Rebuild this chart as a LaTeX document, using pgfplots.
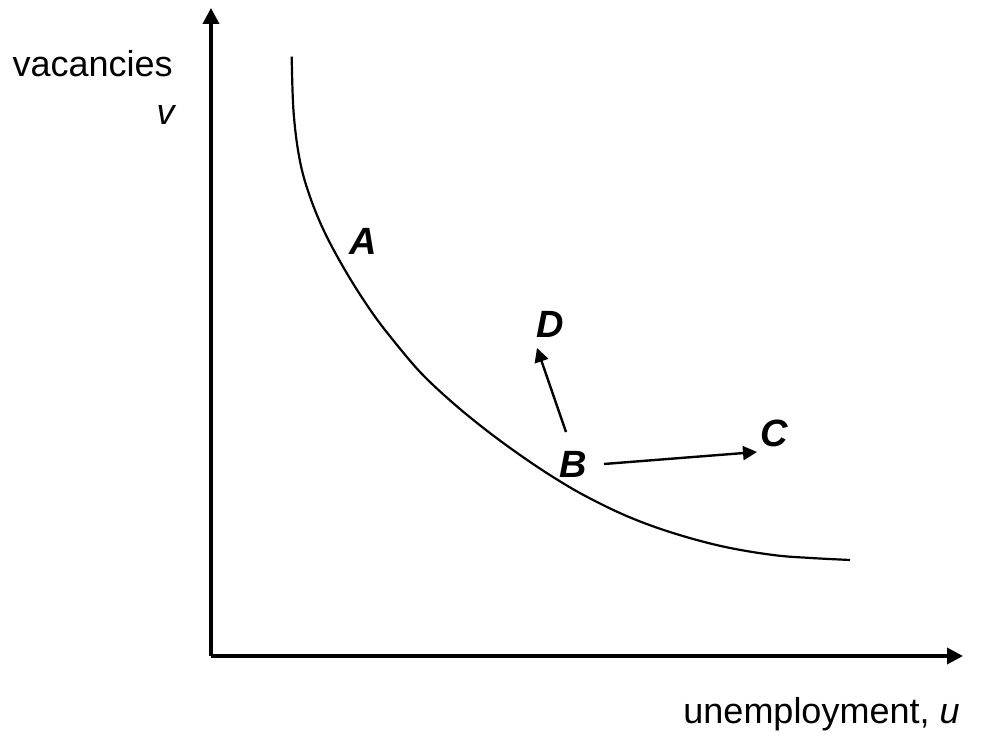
\documentclass[border=0pt]{standalone}
\usepackage{fontspec}
\setmainfont{Liberation Sans}
\usepackage{pgfplots}
\pgfplotsset{compat=1.18}
\usetikzlibrary{arrows.meta}
\begin{document}
\begin{tikzpicture}
\begin{axis}[
  x=0.5pt, y=0.5pt,
  xmin=0, xmax=752, ymin=0, ymax=648,
  axis lines=left,
  axis line style={line width=1.8pt, -{Triangle[length=8pt,width=8pt]}},
  xtick=\empty, ytick=\empty,
  clip=false,
]
% Beveridge curve
\addplot[black, line width=1.1pt, smooth, tension=0.6] coordinates {
(80.7,599.3) (82.5,545) (88,500) (97,465) (113,425) (135.7,383) (160,345)
(182,316) (210,283) (242,253) (275,226) (309,201) (342,179) (375.7,159.3)
(418,139) (462,123) (512,109.5) (562,101) (600,98) (639,96)
};
% B -> D
\addplot[black, line width=1.2pt, -{Triangle[length=7pt,width=7pt]}] coordinates {(355,224) (326,308)};
% B -> C
\addplot[black, line width=1.2pt, -{Triangle[length=7pt,width=7pt]}] coordinates {(393,192) (546,204)};
% labels
\node[font=\fontsize{19}{22}\selectfont\bfseries\itshape, inner sep=0pt] at (axis cs:152,415) {A};
\node[font=\fontsize{19}{22}\selectfont\bfseries\itshape, inner sep=0pt] at (axis cs:362,192) {B};
\node[font=\fontsize{19}{22}\selectfont\bfseries\itshape, inner sep=0pt] at (axis cs:563,223) {C};
\node[font=\fontsize{19}{22}\selectfont\bfseries\itshape, inner sep=0pt] at (axis cs:339,332) {D};
\node[font=\fontsize{18}{21}\selectfont, inner sep=0pt, anchor=base east] at (axis cs:-38,579) {vacancies};
\node[font=\fontsize{18}{21}\selectfont\itshape, inner sep=0pt, anchor=base east] at (axis cs:-36,531) {v};
\node[font=\fontsize{18}{21}\selectfont, inner sep=0pt, anchor=base east] at (axis cs:749,-68) {unemployment, \textit{u}};
\path (axis cs:-211,-86) rectangle (axis cs:779,656);
\end{axis}
\end{tikzpicture}
\end{document}
